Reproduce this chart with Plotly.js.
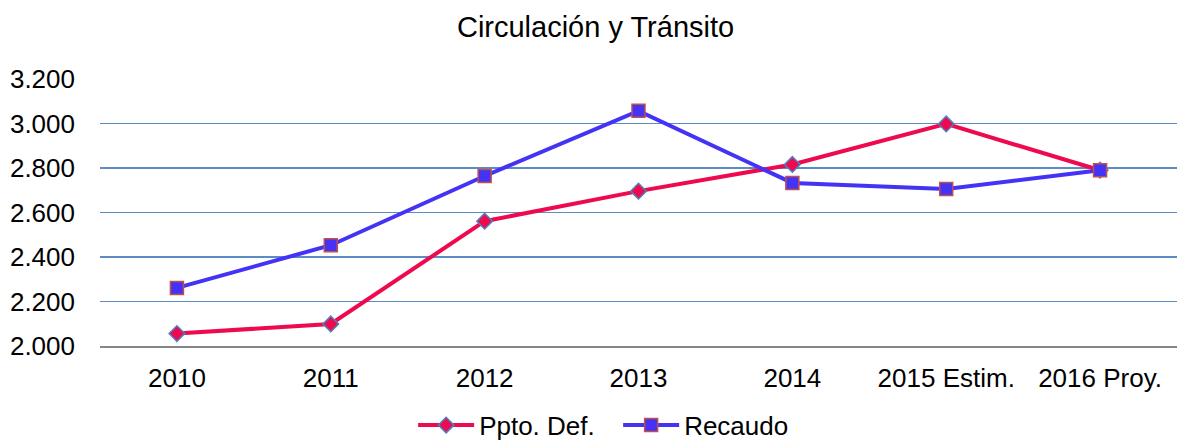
<!DOCTYPE html>
<html>
<head>
<meta charset="utf-8">
<script src="https://cdn.plot.ly/plotly-3.0.1.min.js"></script>
<style>
    body { margin: 0; background: #fff; }
    #grafico { width: 1177px; height: 442px; }
</style>
</head>
<body>
<div id="grafico"></div>
<script>
let anios = ['2010', '2011', '2012', '2013', '2014', '2015 Estim.', '2016 Proy.'];
let pptoDef = [2056, 2099, 2561, 2696, 2816, 2998, 2790];
let recaudo = [2261, 2453, 2764, 3057, 2733, 2706, 2790];
let marcasY = [2000, 2200, 2400, 2600, 2800, 3000, 3200];

let fuente = 'Liberation Sans, Arial, sans-serif';

let trazas = [{
    x: anios,
    y: pptoDef,
    name: 'Ppto. Def.',
    mode: 'lines+markers',
    line: { color: '#ee0a4f', width: 4 },
    marker: {
        symbol: 'diamond',
        size: 12,
        color: '#ee0a4f',
        line: { color: '#4f81bd', width: 1.5 }
    }
}, {
    x: anios,
    y: recaudo,
    name: 'Recaudo',
    mode: 'lines+markers',
    line: { color: '#4433f5', width: 4 },
    marker: {
        symbol: 'square',
        size: 13,
        color: '#4433f5',
        line: { color: '#c0504d', width: 1.5 }
    }
}];

let layout = {
    width: 1177,
    height: 442,
    margin: { l: 100, r: 0, t: 79, b: 96 },
    paper_bgcolor: '#fff',
    plot_bgcolor: '#fff',
    separators: ',.',
    font: { family: fuente, size: 26, color: '#000' },
    title: {
        text: 'Circulación y Tránsito',
        font: { family: fuente, size: 29, color: '#000' },
        xref: 'container',
        x: 0.506,
        xanchor: 'center',
        yref: 'container',
        y: 0.94,
        yanchor: 'middle'
    },
    xaxis: {
        type: 'category',
        range: [-0.5, 6.5],
        showgrid: false,
        showline: true,
        linecolor: '#868686',
        linewidth: 1.5,
        ticks: '',
        ticklabelstandoff: 8,
        tickfont: { family: fuente, size: 26, color: '#000' },
        fixedrange: true
    },
    yaxis: {
        range: [2000, 3200],
        tickvals: marcasY,
        tickformat: ',d',
        showgrid: true,
        gridcolor: '#5b8cc6',
        gridwidth: 1.5,
        zeroline: false,
        showline: false,
        ticks: '',
        ticklabelstandoff: 24,
        tickfont: { family: fuente, size: 26, color: '#000' },
        fixedrange: true
    },
    showlegend: true,
    legend: {
        orientation: 'h',
        xref: 'container',
        x: 0.351,
        xanchor: 'left',
        yref: 'container',
        y: 0.038,
        yanchor: 'middle',
        itemwidth: 56,
        entrywidth: 134,
        entrywidthmode: 'pixels',
        font: { family: fuente, size: 26, color: '#000' },
        bgcolor: 'rgba(0,0,0,0)'
    }
};

Plotly.newPlot('grafico', trazas, layout, { displayModeBar: false, staticPlot: true });
</script>
</body>
</html>
